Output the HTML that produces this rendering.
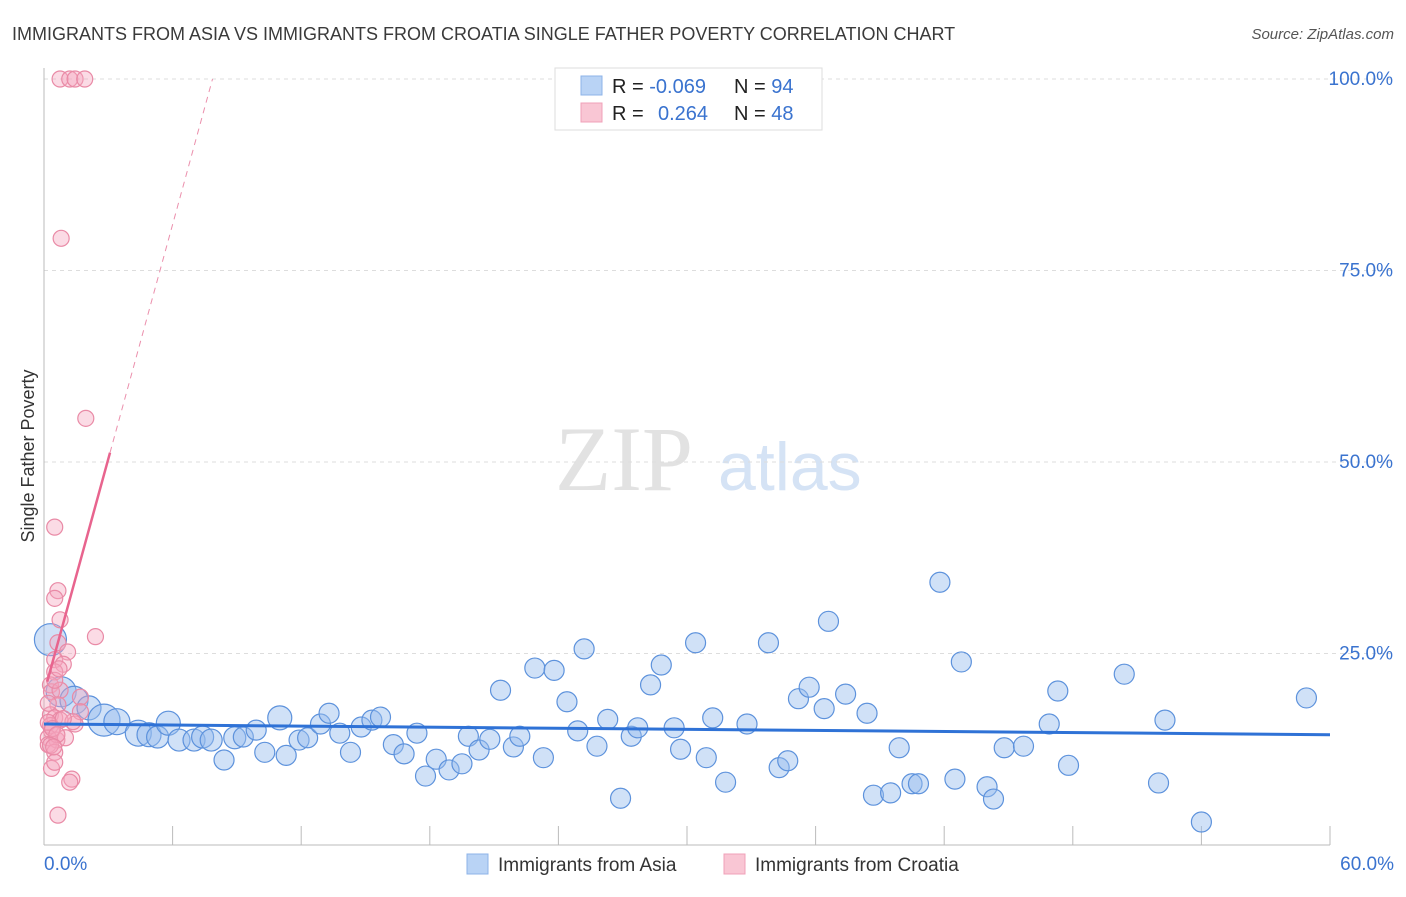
<!DOCTYPE html>
<html><head><meta charset="utf-8"><style>
body{margin:0;background:#fff;font-family:"Liberation Sans",sans-serif;}
</style></head><body>
<svg id="chart" width="1406" height="892" xmlns="http://www.w3.org/2000/svg" font-family="Liberation Sans, sans-serif">
<text x="12" y="40" font-size="18" fill="#3a3a3a">IMMIGRANTS FROM ASIA VS IMMIGRANTS FROM CROATIA SINGLE FATHER POVERTY CORRELATION CHART</text>
<text x="1394" y="39" font-size="15" fill="#555" text-anchor="end" font-style="italic">Source: ZipAtlas.com</text>
<text x="555" y="490" font-size="92" fill="#e2e2e2" font-family="Liberation Serif, serif">ZIP</text>
<text x="718" y="490" font-size="68" fill="#d5e3f5">atlas</text>
<text transform="translate(34,456) rotate(-90)" font-size="18" fill="#333" text-anchor="middle">Single Father Poverty</text>
<g id="grid"></g>
<g id="axes"></g>
<g id="pts"></g>
<g id="lines"></g>
<g>
<rect x="555" y="68" width="267" height="62" fill="#fff" stroke="#ddd"/>
<rect x="581" y="76" width="21" height="19" fill="#b9d3f5" stroke="#8db3e8"/>
<rect x="581" y="103" width="21" height="19" fill="#f9c6d4" stroke="#f0a0b8"/>
<text x="612" y="93" font-size="20" fill="#222">R = <tspan fill="#3a73cf">-0.069</tspan></text>
<text x="734" y="93" font-size="20" fill="#222">N = <tspan fill="#3a73cf">94</tspan></text>
<text x="612" y="120" font-size="20" fill="#222">R = <tspan fill="#3a73cf" x="658">0.264</tspan></text>
<text x="734" y="120" font-size="20" fill="#222">N = <tspan fill="#3a73cf">48</tspan></text>
</g>
<g>
<rect x="467" y="854" width="21" height="20" fill="#b9d3f5" stroke="#8db3e8"/>
<text x="498" y="871" font-size="19" fill="#333">Immigrants from Asia</text>
<rect x="724" y="854" width="21" height="20" fill="#f9c6d4" stroke="#f0a0b8"/>
<text x="755" y="871" font-size="19" fill="#333">Immigrants from Croatia</text>
</g>
</svg>
<script>
const yTicks=[25,50,75,100];
const yTickLabels=["25.0%","50.0%","75.0%","100.0%"];
const xTickLabels=["0.0%","60.0%"];
const asiaX=[0.3,0.8,1.4,2.1,2.8,3.4,4.4,4.9,5.3,5.8,6.3,7.0,7.4,7.8,8.4,8.9,9.3,9.9,10.3,11.0,11.3,11.9,12.3,12.9,13.3,13.8,14.3,14.8,15.3,15.7,16.3,16.8,17.4,17.8,18.3,18.9,19.5,19.8,20.3,20.8,21.3,21.9,22.2,22.9,23.3,23.8,24.4,24.9,25.2,25.8,26.3,26.9,27.4,27.7,28.3,28.8,29.4,29.7,30.4,30.9,31.2,31.8,32.8,33.8,34.3,34.7,35.2,35.7,36.4,36.6,37.4,38.4,38.7,39.5,39.9,40.5,40.8,41.8,42.5,42.8,44.0,44.3,44.8,45.7,46.9,47.3,47.8,50.4,52.0,52.3,54.0,58.9];
const asiaY=[26.8,20.0,18.9,17.9,16.3,16.1,14.6,14.4,14.1,15.9,13.7,13.7,14.1,13.7,11.1,14.0,14.1,15.0,12.1,16.6,11.7,13.7,14.0,15.8,17.2,14.6,12.1,15.4,16.3,16.7,13.1,11.9,14.6,9.0,11.2,9.8,10.6,14.2,12.4,13.8,20.2,12.8,14.2,23.1,11.4,22.8,18.7,14.9,25.6,12.9,16.4,6.1,14.2,15.3,20.9,23.5,15.3,12.5,26.4,11.4,16.6,8.2,15.8,26.4,10.1,11.0,19.1,20.6,17.8,29.2,19.7,17.2,6.5,6.8,12.7,8.0,8.0,34.3,8.6,23.9,7.6,6.0,12.7,12.9,15.8,20.1,10.4,22.3,8.1,16.3,3.0,19.2];
const asiaR=[16,15,14,12,16,13,13,12,11,12,11,11,11,11,10,11,10,10,10,12,10,10,10,10,10,10,10,10,10,10,10,10,10,10,10,10,10,10,10,10,10,10,10,10,10,10,10,10,10,10,10,10,10,10,10,10,10,10,10,10,10,10,10,10,10,10,10,10,10,10,10,10,10,10,10,10,10,10,10,10,10,10,10,10,10,10,10,10,10,10,10,10];
const croX=[0.75,1.2,1.45,1.9,0.8,1.95,0.5,0.65,0.5,0.75,2.4,0.65,1.1,0.5,0.9,0.5,0.3,0.35,0.75,1.7,0.65,0.3,0.5,0.75,0.3,0.35,0.2,0.6,1.0,1.45,0.2,0.5,0.35,0.5,1.3,1.2,0.65,1.7,1.35,0.2,0.4,0.6,0.9,0.3,0.5,0.7,0.2,0.45];
const croY=[100,100,100,100,79.2,55.7,41.5,33.2,32.2,29.4,27.2,26.4,25.2,24.2,23.6,22.6,20.9,20.0,20.2,19.3,18.3,17.0,16.6,16.3,15.6,14.9,14.0,13.7,14.0,15.8,13.1,12.1,10.0,10.8,8.6,8.2,3.9,17.4,16.1,16.0,15.2,14.4,16.5,13.0,21.5,23.0,18.5,12.8];
const asiaLine=[15.8,14.4];
const croLine=[19.8,10.2];
const X=v=>44+v*(1286/60), Y=v=>845-v*(766/100);
const NS="http://www.w3.org/2000/svg";
function mk(p,t,a){const e=document.createElementNS(NS,t);for(const k in a)e.setAttribute(k,a[k]);document.getElementById(p).appendChild(e);return e;}
yTicks.forEach((t,i)=>{
 const l=mk('grid','line',{x1:44,x2:1394,y1:Y(t),y2:Y(t),stroke:'#ddd','stroke-dasharray':'4,4'});
 
 
 const tx=mk('grid','text',{x:1393,y:Y(t)-12+18,'font-size':19,fill:'#3a73cf','text-anchor':'end'});tx.textContent=yTickLabels[i];
 
 
});
const ax=mk('axes','line',{x1:44,x2:44,y1:68,y2:845,stroke:'#bbb'});


const bx=mk('axes','line',{x1:44,x2:1330,y1:845,y2:845,stroke:'#bbb'});


for(let v=6;v<=60;v+=6){const t=mk('axes','line',{x1:X(v),x2:X(v),y1:826,y2:845,stroke:'#bbb'});
 
 }
[[0,'start',44],[60,'end',1394]].forEach((d,i)=>{const t=mk('axes','text',{x:d[2],y:870,'font-size':19,fill:'#3a73cf','text-anchor':d[1]});t.textContent=xTickLabels[i];
 
 });
asiaX.forEach((x,i)=>{const c=mk('pts','circle',{cx:X(x),cy:Y(asiaY[i]),r:asiaR[i]||10,fill:'rgba(150,188,238,0.45)',stroke:'#5d92dc','stroke-width':1.2});
 
 });
croX.forEach((x,i)=>{const c=mk('pts','circle',{cx:X(x),cy:Y(croY[i]),r:8,fill:'rgba(245,165,190,0.4)',stroke:'#e98aa6','stroke-width':1.2});
 
 });
const al=mk('lines','line',{x1:X(0),y1:Y(asiaLine[0]),x2:X(60),y2:Y(asiaLine[1]),stroke:'#2f72d6','stroke-width':3});


const xEnd=3.08, xTop=(100-croLine[0])/croLine[1];
const cl=mk('lines','line',{x1:X(0.15),y1:Y(croLine[0]+croLine[1]*0.15),x2:X(xEnd),y2:Y(croLine[0]+croLine[1]*xEnd),stroke:'#e8648e','stroke-width':2.5});


const cd=mk('lines','line',{x1:X(xEnd),y1:Y(croLine[0]+croLine[1]*xEnd),x2:X(xTop),y2:Y(100),stroke:'#eb8fac','stroke-width':1,'stroke-dasharray':'6,5'});


</script>
</body></html>
